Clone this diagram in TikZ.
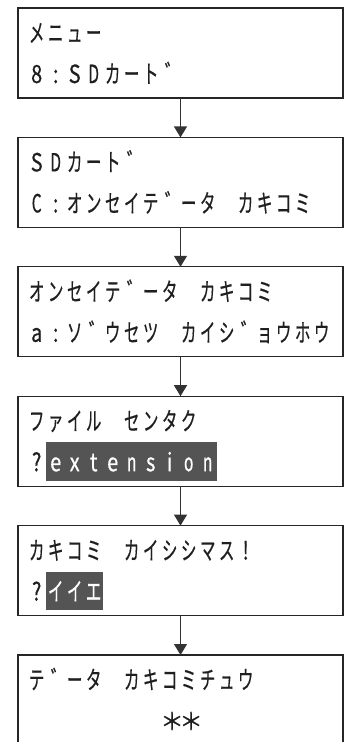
\documentclass[tikz,border=0pt]{standalone}
\usepackage{fontspec}
\usepackage{graphicx}
\newfontfamily\jp[FakeBold=0.6]{Noto Sans CJK JP}
\usetikzlibrary{arrows.meta}
\newlength\lcdpitch \setlength\lcdpitch{19pt}
\newcommand\lcdsx{0.62}
\newcommand\lcdlx{0.8}
\ExplSyntaxOn
\box_new:N \l_lcd_box
\NewDocumentCommand\lcd{m}{
  \tl_map_inline:nn {#1} {
    \str_if_eq:nnTF {##1} {|}
      { \hbox_to_wd:nn {\lcdpitch} {\hfil} }
      {
        \hbox_set:Nn \l_lcd_box {##1}
        \hbox_to_wd:nn {\lcdpitch} { \hfil
          \str_if_eq:nnTF {##1} {＊}
            { \scalebox{0.95}[0.95]{\box_use:N \l_lcd_box} }
            {
              \dim_compare:nNnTF {\box_wd:N \l_lcd_box} > {15pt}
                { \scalebox{\lcdsx}[1]{\box_use:N \l_lcd_box} }
                { \scalebox{\lcdlx}[1]{\box_use:N \l_lcd_box} }
            }
          \hfil }
      }
  }
}
\ExplSyntaxOff
\begin{document}
\begin{tikzpicture}[x=1pt,y=-1pt,
  box/.style={draw=black!85, line width=1.2pt, minimum width=325pt, minimum height=90pt, inner sep=0pt, outer sep=0pt, anchor=north west},
  txt/.style={anchor=base west, inner sep=0pt, text=black!88, font=\jp\fontsize{25}{25}\selectfont},
  hl/.style={txt, fill=black!67, text=white, text height=29pt, text depth=9.5pt},
  arr/.style={draw=black!80, line width=1.2pt, -{Triangle[width=13pt,length=11pt]}}]
\useasboundingbox (0,0) rectangle (346,742);
% boxes
\node[box] (b1) at (18,8) {};
\node[box] (b2) at (18,137.4) {};
\node[box] (b3) at (18,266.8) {};
\node[box] (b4) at (18,396.2) {};
\node[box] (b5) at (18,525.6) {};
\node[box] (b6) at (18,655) {};
% connectors
\draw[arr] (b1.south) -- (b2.north);
\draw[arr] (b2.south) -- (b3.north);
\draw[arr] (b3.south) -- (b4.north);
\draw[arr] (b4.south) -- (b5.north);
\draw[arr] (b5.south) -- (b6.north);
% texts
\node[txt] (t1a) at (27,42) {\lcd{メニュー}};
\node[txt] (t1b) at (27,83) {\lcd{8:SDカートﾞ}};
\node[txt] (t2a) at (27,171.4) {\lcd{SDカートﾞ}};
\node[txt] (t2b) at (27,212.4) {\lcd{C:オンセイテﾞータ|カキコミ}};
\node[txt] (t3a) at (27,300.8) {\lcd{オンセイテﾞータ|カキコミ}};
\node[txt] (t3b) at (27,341.8) {\lcd{a:ソﾞウセツ|カイシﾞョウホウ}};
\node[txt] (t4a) at (27,430.2) {\lcd{ファイル|センタク}};
\node[txt] (t4b) at (27,471.2) {\lcd{?}};
\node[hl]  (h4)  at (46,471.2) {\lcd{extension}};
\node[txt] (t5a) at (27,559.6) {\lcd{カキコミ|カイシシマス!}};
\node[txt] (t5b) at (27,600.6) {\lcd{?}};
\node[hl]  (h5)  at (46,600.6) {\lcd{イイエ}};
\node[txt] (t6a) at (27,689) {\lcd{テﾞータ|カキコミチュウ}};
\node[txt] (t6b) at (27,730) {\lcd{|||||||＊＊}};
\end{tikzpicture}
\end{document}
